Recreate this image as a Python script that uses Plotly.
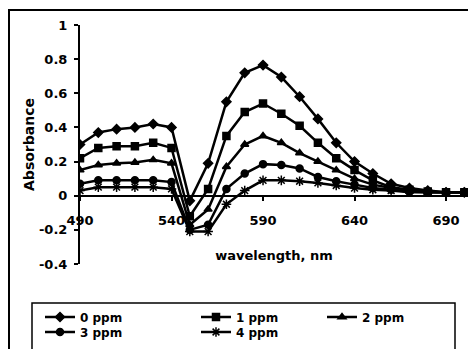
import plotly.graph_objects as go

wavelength = [490, 500, 510, 520, 530, 540, 550, 560, 570, 580, 590,
              600, 610, 620, 630, 640, 650, 660, 670, 680, 690, 700]

ppm0 = [0.30, 0.37, 0.39, 0.40, 0.42, 0.40, -0.03, 0.19, 0.55, 0.72, 0.765,
        0.695, 0.58, 0.45, 0.31, 0.20, 0.13, 0.07, 0.045, 0.03, 0.02, 0.02]
ppm1 = [0.22, 0.28, 0.29, 0.29, 0.31, 0.28, -0.12, 0.04, 0.35, 0.49, 0.54,
        0.48, 0.41, 0.31, 0.22, 0.15, 0.09, 0.05, 0.035, 0.025, 0.02, 0.02]
ppm2 = [0.15, 0.18, 0.19, 0.195, 0.21, 0.19, -0.17, -0.08, 0.17, 0.30, 0.35,
        0.31, 0.25, 0.20, 0.15, 0.10, 0.065, 0.045, 0.03, 0.02, 0.02, 0.02]
ppm3 = [0.07, 0.09, 0.09, 0.09, 0.09, 0.08, -0.20, -0.17, 0.04, 0.13, 0.185,
        0.18, 0.16, 0.11, 0.085, 0.065, 0.045, 0.035, 0.025, 0.02, 0.02, 0.02]
ppm4 = [0.03, 0.05, 0.05, 0.05, 0.05, 0.04, -0.21, -0.21, -0.05, 0.03, 0.09,
        0.09, 0.085, 0.075, 0.06, 0.045, 0.035, 0.03, 0.02, 0.02, 0.02, 0.02]

series_names = ["0 ppm", "1 ppm", "2 ppm", "3 ppm", "4 ppm"]
x_ticks = [490, 540, 590, 640, 690]
y_ticks = [-0.4, -0.2, 0, 0.2, 0.4, 0.6, 0.8, 1]
y_tick_text = ["-0.4", "-0.2", "0", "0.2", "0.4", "0.6", "0.8", "1"]

FAMILY = "DejaVu Sans, Arial, sans-serif"
FONT = dict(family=FAMILY, size=13, color="black", weight="bold")

series = [ppm0, ppm1, ppm2, ppm3, ppm4]
symbols = ["diamond", "square", "triangle-up", "circle", "asterisk-open"]
legend_ids = ["legend", "legend2", "legend3", "legend4", "legend5"]

fig = go.Figure()
for name, ys, sym, lg in zip(series_names, series, symbols, legend_ids):
    fig.add_trace(go.Scatter(
        x=wavelength, y=ys, name=name, mode="lines+markers",
        line=dict(color="black", width=2.5),
        marker=dict(symbol=sym, size=7 if sym != "asterisk-open" else 8,
                    color="black", line=dict(color="black", width=1.5)),
        legend=lg,
    ))

# The page body has an 8 px margin: screen = figure + 8.
OFF = 8
W, H = 476, 349
# plot area on screen: x 80..468, y 25..264
L = 80 - OFF
T = 25 - OFF
R = W - (468 - OFF)
B = H - (264 - OFF)
pw, ph = W - L - R, H - T - B

def px_x(p):
    return (p - OFF - L) / pw

def px_y(p):
    return (H - B - (p - OFF)) / ph

legend_pos = [(40, 317), (196, 317), (322, 317), (40, 332), (196, 332)]
legend_layout = {}
for lg, (lx, ly) in zip(legend_ids, legend_pos):
    legend_layout[lg] = dict(x=px_x(lx), y=px_y(ly), xanchor="left", yanchor="middle",
                             bgcolor="rgba(0,0,0,0)", borderwidth=0,
                             font=dict(family=FAMILY, size=12, color="black", weight="bold"))

fig.update_layout(
    width=W, height=H, autosize=False,
    margin=dict(l=L, r=R, t=T, b=B, pad=0, autoexpand=False),
    paper_bgcolor="white", plot_bgcolor="white",
    font=FONT, showlegend=True,
    xaxis=dict(range=[490, 702], tickvals=x_ticks, showline=True, linecolor="black",
               linewidth=2, ticks="outside", ticklen=4, tickwidth=2, tickcolor="black",
               showgrid=False, zeroline=False, anchor="free", position=0.4 / 1.4,
               ticklabelstandoff=9, automargin=False,
               title=dict(text="wavelength, nm", font=dict(size=13), standoff=23)),
    yaxis=dict(range=[-0.4, 1], tickvals=y_ticks, ticktext=y_tick_text, showline=True,
               linecolor="black", linewidth=2, ticks="outside", ticklen=4, tickwidth=2,
               tickcolor="black", showgrid=False, zeroline=False, ticklabelstandoff=4,
               automargin=False,
               title=dict(text="Absorbance", font=dict(size=14), standoff=1)),
    shapes=[
        dict(type="rect", xref="paper", yref="paper",
             x0=px_x(9), x1=px_x(474), y0=px_y(360), y1=px_y(10),
             line=dict(color="black", width=2), fillcolor="rgba(0,0,0,0)", layer="below"),
        dict(type="rect", xref="paper", yref="paper",
             x0=px_x(32), x1=px_x(455), y0=px_y(360), y1=px_y(303),
             line=dict(color="black", width=1.5), fillcolor="rgba(0,0,0,0)", layer="below"),
    ],
    **legend_layout,
)

fig.write_html("out.html")
